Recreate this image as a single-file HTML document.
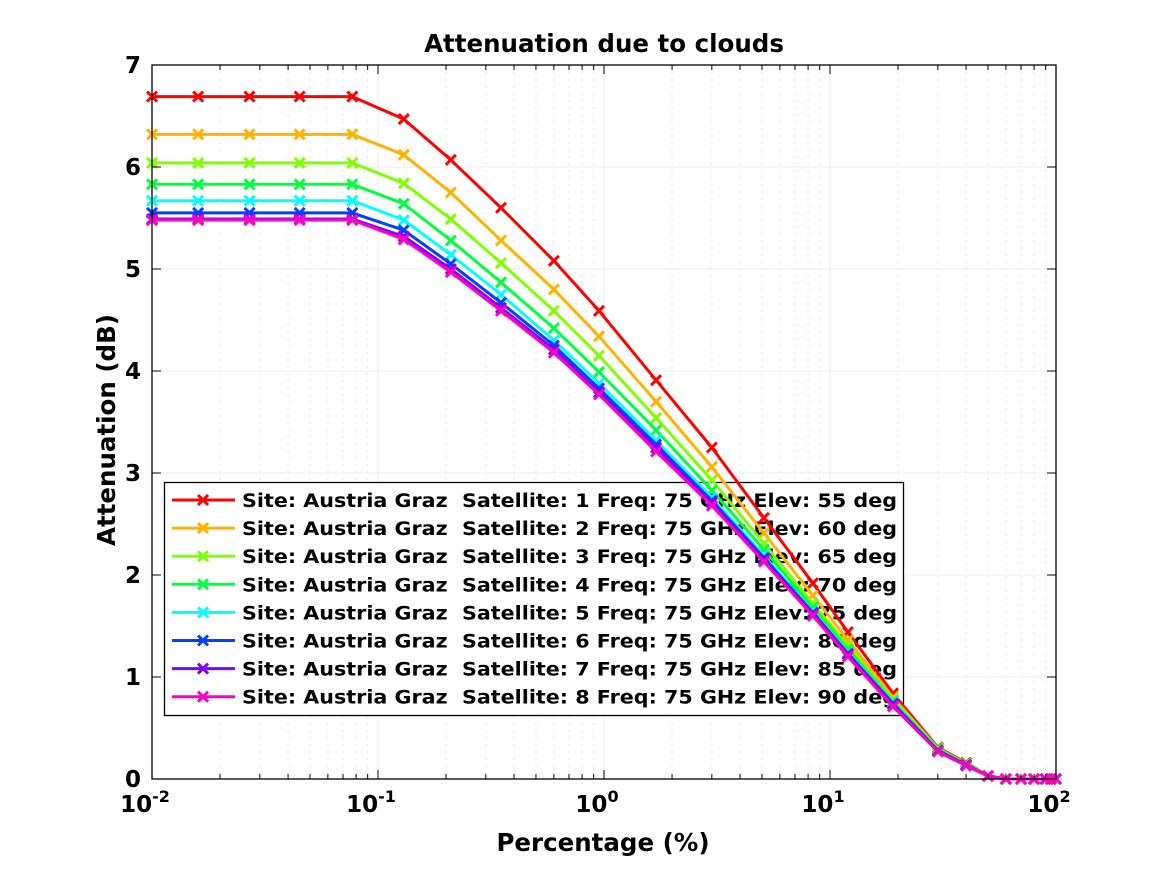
<!DOCTYPE html>
<html><head><meta charset="utf-8"><style>
html,body{margin:0;padding:0;background:#fff;}
svg{display:block;font-family:"DejaVu Sans","Liberation Sans",sans-serif;font-weight:bold;}
</style></head><body>
<svg id="chart" width="1167" height="875" viewBox="0 0 1167 875" xmlns="http://www.w3.org/2000/svg">
<rect width="1167" height="875" fill="#fff"/>
<g id="grid"></g>
<g id="legend"></g>
<g id="series"></g>
<rect x="152" y="65" width="904" height="714" fill="none" stroke="#000" stroke-width="1.3"/>
<g id="axes"></g>
<text x="604" y="52" text-anchor="middle" font-size="24.5">Attenuation due to clouds</text>
<text x="603" y="851" text-anchor="middle" font-size="24.5">Percentage (%)</text>
<text transform="translate(115,430) rotate(-90)" text-anchor="middle" font-size="24.5">Attenuation (dB)</text>
</svg>
<script>
const percentages = [0.01,0.016,0.027,0.045,0.077,0.13,0.21,0.35,0.6,0.95,1.7,3,5.1,8.4,12,19,30,40,50,60,70,80,90,95,100];
const red     = [6.69,6.69,6.69,6.69,6.69,6.47,6.07,5.60,5.08,4.59,3.91,3.25,2.56,1.92,1.44,0.84,0.31,0.16,0.03,0,0,0,0,0,0];
const orange  = [6.32,6.32,6.32,6.32,6.32,6.12,5.75,5.28,4.80,4.34,3.70,3.06,2.41,1.80,1.36,0.80,0.30,0.15,0.03,0,0,0,0,0,0];
const lime    = [6.04,6.04,6.04,6.04,6.04,5.84,5.49,5.06,4.59,4.15,3.54,2.93,2.31,1.72,1.31,0.78,0.30,0.15,0.03,0,0,0,0,0,0];
const green   = [5.83,5.83,5.83,5.83,5.83,5.64,5.28,4.87,4.42,3.99,3.42,2.83,2.25,1.68,1.27,0.76,0.29,0.14,0.03,0,0,0,0,0,0];
const cyan    = [5.67,5.67,5.67,5.67,5.67,5.48,5.14,4.75,4.30,3.88,3.32,2.76,2.19,1.64,1.24,0.75,0.28,0.14,0.03,0,0,0,0,0,0];
const blue    = [5.55,5.55,5.55,5.55,5.55,5.38,5.05,4.67,4.25,3.83,3.28,2.73,2.17,1.63,1.23,0.74,0.28,0.14,0.03,0,0,0,0,0,0];
const purple  = [5.49,5.49,5.49,5.49,5.49,5.32,5.00,4.62,4.21,3.79,3.25,2.71,2.15,1.62,1.22,0.73,0.27,0.13,0.03,0,0,0,0,0,0];
const magenta = [5.48,5.48,5.48,5.48,5.48,5.29,4.97,4.59,4.18,3.77,3.21,2.68,2.13,1.60,1.20,0.71,0.27,0.13,0.03,0,0,0,0,0,0];
const seriesValues = [red,orange,lime,green,cyan,blue,purple,magenta];
const seriesColors = ["#ff0000","#ffb300","#80ff00","#00ff40","#00ffff","#0040ff","#8000ff","#ff00bf"];
const seriesLabels = [
 "Site: Austria Graz  Satellite: 1 Freq: 75 GHz Elev: 55 deg",
 "Site: Austria Graz  Satellite: 2 Freq: 75 GHz Elev: 60 deg",
 "Site: Austria Graz  Satellite: 3 Freq: 75 GHz Elev: 65 deg",
 "Site: Austria Graz  Satellite: 4 Freq: 75 GHz Elev: 70 deg",
 "Site: Austria Graz  Satellite: 5 Freq: 75 GHz Elev: 75 deg",
 "Site: Austria Graz  Satellite: 6 Freq: 75 GHz Elev: 80 deg",
 "Site: Austria Graz  Satellite: 7 Freq: 75 GHz Elev: 85 deg",
 "Site: Austria Graz  Satellite: 8 Freq: 75 GHz Elev: 90 deg"];
const yTicks = [0,1,2,3,4,5,6,7];
const xDecades = [-2,-1,0,1,2];

const NS="http://www.w3.org/2000/svg";
const L=152,R=1056,T=65,B=779;
function xs(p){return L+(Math.log10(p)+2)/4*(R-L);}
function ys(v){return B-v/7*(B-T);}
function mk(tag,attrs,parent){const e=document.createElementNS(NS,tag);for(const k in attrs)e.setAttribute(k,attrs[k]);parent.appendChild(e);return e;}
const grid=document.getElementById('grid'),axes=document.getElementById('axes');
xDecades.slice(0,-1).forEach(d=>{for(let m=2;m<=9;m++){const x=xs(m*Math.pow(10,d));
 const g=mk('line',{x1:x,x2:x,y1:T,y2:B,stroke:'#e4e4e4','stroke-dasharray':'2,5'},grid);
 
 
 const t1=mk('line',{x1:x,x2:x,y1:B,y2:B-5,stroke:'#000'},axes);
 
 
 const t2=mk('line',{x1:x,x2:x,y1:T,y2:T+5,stroke:'#000'},axes);
 
 
}});
xDecades.forEach(d=>{const x=xs(Math.pow(10,d));
 const g=mk('line',{x1:x,x2:x,y1:T,y2:B,stroke:'#ececec'},grid);
 
 
 mk('line',{x1:x,x2:x,y1:B,y2:B-9,stroke:'#000'},axes);
 mk('line',{x1:x,x2:x,y1:T,y2:T+9,stroke:'#000'},axes);
 const t=mk('text',{x:x-7,y:B+33,'text-anchor':'middle','font-size':23},axes);
 
 
 t.textContent='10';
 const s=mk('tspan',{dy:-10,'font-size':16},t);s.textContent=String(d);
});
yTicks.forEach(v=>{const y=ys(v);
 const g=mk('line',{x1:L,x2:R,y1:y,y2:y,stroke:'#ececec'},grid);
 
 
 mk('line',{x1:L,x2:L+9,y1:y,y2:y,stroke:'#000'},axes);
 mk('line',{x1:R,x2:R-9,y1:y,y2:y,stroke:'#000'},axes);
 const t=mk('text',{x:L-11,y:y+8,'text-anchor':'end','font-size':23},axes);
 
 
 t.textContent=String(v);
});
const sg=document.getElementById('series');
function cross(parent,x,y,c,w){const s=5;
 mk('path',{d:`M${x-s},${y-s}L${x+s},${y+s}M${x-s},${y+s}L${x+s},${y-s}`,stroke:c,'stroke-width':w,fill:'none'},parent);}
seriesValues.forEach((vals,i)=>{
 const g=mk('g',{},sg);
 
 
 const pts=vals.map((v,j)=>xs(percentages[j]).toFixed(1)+','+ys(v).toFixed(1)).join(' ');
 mk('polyline',{points:pts,fill:'none',stroke:seriesColors[i],'stroke-width':3,'stroke-linejoin':'round'},g);
 vals.forEach((v,j)=>cross(g,xs(percentages[j]),ys(v),seriesColors[i],3));
});
const lg=document.getElementById('legend');
const box=mk('rect',{x:164.5,y:482.5,width:739,height:233,fill:'#fff',stroke:'#000','stroke-width':1.3},lg);


seriesLabels.forEach((lab,i)=>{const y=500+i*28.1;
 const g=mk('g',{},lg);
 
 
 mk('line',{x1:172,x2:235,y1:y,y2:y,stroke:seriesColors[i],'stroke-width':3},g);
 cross(g,203,y,seriesColors[i],3);
 const t=mk('text',{x:242,y:y+7,'font-size':18.5,textLength:655,lengthAdjust:'spacingAndGlyphs'},g);
 t.style.whiteSpace='pre';
 t.textContent=lab;
});
</script>
</body></html>
